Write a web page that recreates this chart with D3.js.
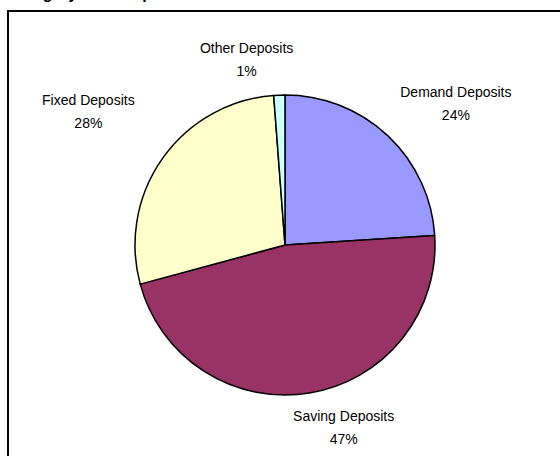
<!DOCTYPE html>
<html>
<head>
<meta charset="utf-8">
<script src="https://cdn.jsdelivr.net/npm/d3@7"></script>
<style>
  body { margin: 0; background: #fff; }
  svg { display: block; }
  text { font-family: "Liberation Sans", Arial, sans-serif; }
</style>
</head>
<body>
<div id="main"></div>
<script>
// data
var categories = ["Demand Deposits", "Saving Deposits", "Fixed Deposits", "Other Deposits"];
var shares = [24.0, 46.8, 28.0, 1.2];
var colors = ["#9999ff", "#993366", "#ffffcc", "#ccffff"];
var titleText = "Category-wise Deposits";

// label nudges (layout only, px)
var labelNudge = [[13, 1], [22, -10], [-16, -21], [-30, 9]];

// dimensions
var svg_width = 560,
    svg_height = 456;
var cx = 285, cy = 245, radius = 150;

var svg = d3.select("#main").append("svg")
    .attr("width", svg_width)
    .attr("height", svg_height);

// title (clipped at top like the original)
svg.append("text")
    .attr("x", 8)
    .attr("y", -1)
    .attr("font-size", 16)
    .attr("font-weight", "bold")
    .text(titleText);

// chart frame
svg.append("rect")
    .attr("x", 8)
    .attr("y", 11)
    .attr("width", 600)
    .attr("height", 500)
    .attr("fill", "none")
    .attr("stroke", "#000")
    .attr("stroke-width", 2);

var data = categories.map(function(c, i) { return {name: c, value: shares[i], color: colors[i]}; });

var pie = d3.pie()
    .sort(null)
    .value(function(d) { return d.value; });

var arc = d3.arc()
    .innerRadius(0)
    .outerRadius(radius);

var g = svg.append("g")
    .attr("transform", "translate(" + cx + "," + cy + ")");

var arcs = pie(data);

g.selectAll(".slice")
    .data(arcs)
    .enter()
    .append("path")
    .attr("class", "slice")
    .attr("d", arc)
    .attr("fill", function(d) { return d.data.color; })
    .attr("stroke", "#000")
    .attr("stroke-width", 1.5)
    .attr("stroke-linejoin", "round");

// labels: outside the pie, box pushed outward from the slice midpoint
var labelR = radius + 25;
var lineH = 23;
var labels = g.selectAll(".label")
    .data(arcs)
    .enter()
    .append("g")
    .attr("class", "label");

labels.each(function(d, i) {
    var sel = d3.select(this);
    var mid = (d.startAngle + d.endAngle) / 2;
    var t1 = sel.append("text")
        .attr("text-anchor", "middle")
        .attr("font-size", 14)
        .attr("fill", "#000")
        .text(d.data.name);
    var w = t1.node().getComputedTextLength();
    var x = Math.sin(mid) * labelR + Math.sin(mid) * w / 2 + labelNudge[i][0];
    var y = -Math.cos(mid) * labelR - Math.cos(mid) * 20 + labelNudge[i][1];
    t1.attr("x", x).attr("y", y - lineH / 2 + 5);
    sel.append("text")
        .attr("text-anchor", "middle")
        .attr("font-size", 14)
        .attr("fill", "#000")
        .attr("x", x)
        .attr("y", y + lineH / 2 + 5)
        .text(Math.round(d.data.value) + "%");
});
</script>
</body>
</html>
